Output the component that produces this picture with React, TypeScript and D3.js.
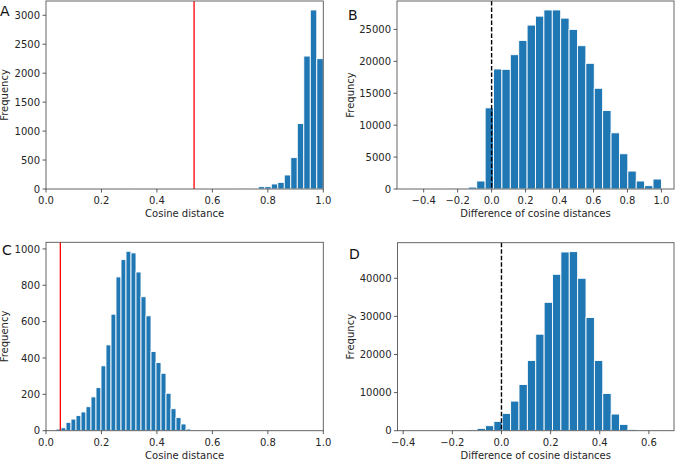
import React from "react";
import * as d3 from "d3";

const FONT = "'DejaVu Sans', sans-serif";

// Panel A
const aCounts = [1, 0, 0, 0, 0, 0, 0, 0, 0, 0, 0, 0, 0, 0, 0, 0, 1, 3, 8, 12, 40, 40, 87, 115, 242, 542, 1131, 2296, 3092, 2250];
const aRange = [0.2965, 1.0];
const aXTicks = [0, 0.2, 0.4, 0.6, 0.8, 1.0];
const aYTicks = [0, 500, 1000, 1500, 2000, 2500, 3000];
const aRef = 0.534;

// Panel B
const bCounts = [1, 1, 2, 4, 10, 25, 70, 300, 1250, 12710, 18800, 18750, 21040, 23280, 25680, 27080, 28050, 28050, 26770, 25000, 22450, 19690, 15780, 12290, 8800, 5520, 2810, 1250, 520, 1560];
const bRange = [-0.483, 1.0];
const bXTicks = [-0.4, -0.2, 0, 0.2, 0.4, 0.6, 0.8, 1.0];
const bYTicks = [0, 5000, 10000, 15000, 20000, 25000];
const bRef = 0;

// Panel C
const cCounts = [9, 16, 46, 64, 83, 103, 132, 186, 237, 357, 472, 641, 846, 941, 987, 978, 873, 737, 632, 436, 375, 316, 206, 121, 72, 37, 9, 3, 1, 1];
const cRange = [0.0361, 0.577];
const cXTicks = [0, 0.2, 0.4, 0.6, 0.8, 1.0];
const cYTicks = [0, 200, 400, 600, 800, 1000];
const cRef = 0.0517;

// Panel D
const dCounts = [1, 1, 2, 4, 8, 15, 50, 200, 610, 1310, 2445, 4540, 7770, 12140, 18430, 25330, 33700, 41050, 46900, 46990, 40000, 29700, 18430, 9780, 4370, 1660, 350, 40, 5, 1];
const dRange = [-0.372, 0.651];
const dXTicks = [-0.4, -0.2, 0, 0.2, 0.4, 0.6];
const dYTicks = [0, 10000, 20000, 30000, 40000];
const dRef = 0;

type Box = { x0: number; x1: number; y0: number; y1: number };

function Panel(props: {
  box: Box;
  counts: number[];
  range: number[];
  fixedX?: number[];
  xTicks: number[];
  yTicks: number[];
  xLabel: string;
  yLabel: string;
  yLabelX: number;
  letter: string;
  letterX: number;
  letterY: number;
  refX: number;
  refColor: string;
  refDash?: string;
}) {
  const { box, counts, range } = props;
  const n = counts.length;
  const w = (range[1] - range[0]) / n;
  const edges = d3.range(n + 1).map((i) => range[0] + i * w);
  const span = range[1] - range[0];
  const xDomain = props.fixedX ?? [range[0] - 0.05 * span, range[1] + 0.05 * span];
  const x = d3.scaleLinear().domain(xDomain).range([box.x0, box.x1]);
  const yMax = (d3.max(counts) as number) * 1.05;
  const y = d3.scaleLinear().domain([0, yMax]).range([box.y1, box.y0]);
  const fx = d3.format(".1f");
  const fy = d3.format("d");
  const tickCol = "#333";
  const textCol = "#262626";
  return (
    <g>
      <defs>
        <clipPath id={"clip" + props.letter}>
          <rect x={box.x0} y={box.y0} width={box.x1 - box.x0} height={box.y1 - box.y0} />
        </clipPath>
      </defs>
      <g clipPath={`url(#clip${props.letter})`}>
        {counts.map((c, i) => (
          <rect
            key={i}
            x={x(edges[i])}
            y={y(c)}
            width={x(edges[i + 1]) - x(edges[i])}
            height={y(0) - y(c)}
            fill="#1f77b4"
            stroke="#ffffff"
            strokeWidth={0.9}
          />
        ))}
      </g>
      <line
        x1={x(props.refX)}
        x2={x(props.refX)}
        y1={box.y0}
        y2={box.y1}
        stroke={props.refColor}
        strokeWidth={props.refDash ? 1.4 : 1.3}
        strokeDasharray={props.refDash}
      />
      <rect
        x={box.x0}
        y={box.y0}
        width={box.x1 - box.x0}
        height={box.y1 - box.y0}
        fill="none"
        stroke="#555"
        strokeWidth={0.9}
      />
      {props.xTicks.map((t) => (
        <g key={"x" + t}>
          <line x1={x(t)} x2={x(t)} y1={box.y1} y2={box.y1 + 3.5} stroke={tickCol} strokeWidth={0.8} />
          <text x={x(t)} y={box.y1 + 15} textAnchor="middle" fontSize={10} fill={textCol} fontFamily={FONT}>
            {fx(t)}
          </text>
        </g>
      ))}
      {props.yTicks.map((t) => (
        <g key={"y" + t}>
          <line x1={box.x0 - 3.5} x2={box.x0} y1={y(t)} y2={y(t)} stroke={tickCol} strokeWidth={0.8} />
          <text x={box.x0 - 6} y={y(t) + 3.6} textAnchor="end" fontSize={10} fill={textCol} fontFamily={FONT}>
            {fy(t)}
          </text>
        </g>
      ))}
      <text
        x={(box.x0 + box.x1) / 2}
        y={box.y1 + 28}
        textAnchor="middle"
        fontSize={10}
        fill={textCol}
        fontFamily={FONT}
      >
        {props.xLabel}
      </text>
      <text
        transform={`translate(${props.yLabelX},${(box.y0 + box.y1) / 2}) rotate(-90)`}
        textAnchor="middle"
        fontSize={10}
        fill={textCol}
        fontFamily={FONT}
      >
        {props.yLabel}
      </text>
      <text x={props.letterX} y={props.letterY} fontSize={14} fill="#111" fontFamily={FONT}>
        {props.letter}
      </text>
    </g>
  );
}

export default function App() {
  return (
    <svg
      width={675}
      height={459}
      style={{ position: "fixed", left: 0, top: 0, background: "#fff" }}
    >
      <rect width={675} height={459} fill="#fff" />
      <Panel
        box={{ x0: 46, x1: 323.3, y0: 1, y1: 189 }}
        counts={aCounts}
        range={aRange}
        fixedX={[0, 1]}
        xTicks={aXTicks}
        yTicks={aYTicks}
        xLabel="Cosine distance"
        yLabel="Frequency"
        yLabelX={8}
        letter="A"
        letterX={0}
        letterY={16}
        refX={aRef}
        refColor="#ff0000"
      />
      <Panel
        box={{ x0: 397, x1: 674, y0: 1, y1: 189 }}
        counts={bCounts}
        range={bRange}
        xTicks={bXTicks}
        yTicks={bYTicks}
        xLabel="Difference of cosine distances"
        yLabel="Frequncy"
        yLabelX={353.5}
        letter="B"
        letterX={348}
        letterY={20}
        refX={bRef}
        refColor="#000"
        refDash="4.5,2"
      />
      <Panel
        box={{ x0: 46, x1: 323.3, y0: 242.3, y1: 430.7 }}
        counts={cCounts}
        range={cRange}
        fixedX={[0, 1]}
        xTicks={cXTicks}
        yTicks={cYTicks}
        xLabel="Cosine distance"
        yLabel="Frequency"
        yLabelX={8}
        letter="C"
        letterX={2}
        letterY={255}
        refX={cRef}
        refColor="#ff0000"
      />
      <Panel
        box={{ x0: 397.5, x1: 674, y0: 242.7, y1: 430.7 }}
        counts={dCounts}
        range={dRange}
        xTicks={dXTicks}
        yTicks={dYTicks}
        xLabel="Difference of cosine distances"
        yLabel="Frequncy"
        yLabelX={353.5}
        letter="D"
        letterX={349}
        letterY={258.5}
        refX={dRef}
        refColor="#000"
        refDash="4.5,2"
      />
    </svg>
  );
}
